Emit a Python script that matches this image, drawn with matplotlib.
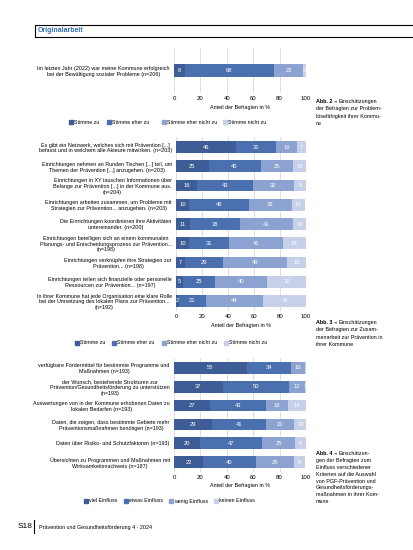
import matplotlib
matplotlib.use("Agg")
import matplotlib.pyplot as plt
from matplotlib.patches import Rectangle
from matplotlib.lines import Line2D
from matplotlib.text import Annotation

plt.rcParams['font.family'] = ['Liberation Sans', 'DejaVu Sans']

W, H = 413, 550
COLORS = ['#3e5d96', '#4a70b0', '#8ca3d1', '#c6d0e8']
BLUE = '#2e6db4'

# --- data -------------------------------------------------------------
labels_1 = ["Im letzten Jahr (2022) war meine Kommune erfolgreich\n"
            "bei der Bewältigung sozialer Probleme (n=206)"]
vals_1 = [[8], [68], [22], [2]]
legend_1 = ["Stimme zu", "Stimme eher zu", "Stimme eher nicht zu", "Stimme nicht zu"]

labels_2 = [
    "Es gibt ein Netzwerk, welches sich mit Prävention [...]\nbefasst und in welchem alle Akteure mitwirken. (n=203)",
    "Einrichtungen nehmen an Runden Tischen [...] teil, um\nThemen der Prävention [...] anzugehen. (n=203)",
    "Einrichtungen in XY tauschen Informationen über\nBelange zur Prävention [...] in der Kommune aus.\n(n=204)",
    "Einrichtungen arbeiten zusammen, um Probleme mit\nStrategien zur Prävention... anzugehen. (n=203)",
    "Die Einrichtungen koordinieren ihre Aktivitäten\nuntereinander. (n=200)",
    "Einrichtungen beteiligen sich an einem kommunalen\nPlanungs- und Entscheidungsprozess zur Prävention...\n(n=198)",
    "Einrichtungen verknüpfen ihre Strategien zur\nPrävention... (n=198)",
    "Einrichtungen teilen sich finanzielle oder personelle\nRessourcen zur Prävention... (n=197)",
    "In ihrer Kommune hat jede Organisation eine klare Rolle\nbei der Umsetzung des lokalen Plans zur Prävention...\n(n=192)",
]
stimme_zu = [46, 25, 16, 10, 11, 10, 7, 5, 2]
stimme_eher_zu = [31, 40, 43, 46, 38, 31, 29, 25, 21]
stimme_eher_nicht_zu = [16, 25, 32, 33, 41, 41, 49, 40, 44]
stimme_nicht_zu = [7, 10, 9, 10, 10, 18, 16, 30, 34]
legend_2 = legend_1

labels_3 = [
    "verfügbare Fördermittel für bestimmte Programme und\nMaßnahmen (n=193)",
    "der Wunsch, bestehende Strukturen zur\nPrävention/Gesundheitsförderung zu unterstützen\n(n=193)",
    "Auswertungen von in der Kommune erhobenen Daten zu\nlokalen Bedarfen (n=193)",
    "Daten, die zeigen, dass bestimmte Gebiete mehr\nPräventionsmaßnahmen benötigen (n=193)",
    "Daten über Risiko- und Schutzfaktoren (n=193)",
    "Übersichten zu Programmen und Maßnahmen mit\nWirksamkeitsnachweis (n=187)",
]
viel = [55, 37, 27, 29, 20, 22]
etwas = [34, 50, 43, 41, 47, 40]
wenig = [10, 12, 16, 21, 25, 29]
keinen = [2, 1, 14, 10, 8, 8]
legend_3 = ["viel Einfluss", "etwas Einfluss", "wenig Einfluss", "keinen Einfluss"]

xticks = [0, 20, 40, 60, 80, 100]

fig = plt.figure(figsize=(W / 100, H / 100), dpi=100)


def px_axes(x0, y0, x1, y1):
    return fig.add_axes([x0 / W, 1 - y1 / H, (x1 - x0) / W, (y1 - y0) / H])


def ftext(x, y, s, **kw):
    return fig.text(x / W, 1 - y / H, s, **kw)


def stacked(ax, labels, series, height, ylim):
    n = len(labels)
    pos = list(range(n))
    left = [0] * n
    for vals, col in zip(series, COLORS):
        ax.barh(pos, vals, left=left, height=height, color=col, zorder=2)
        for i, v in enumerate(vals):
            ax.text(left[i] + v / 2, i, str(v), ha='center', va='center',
                    color='white', fontsize=4.2, zorder=3)
        left = [l + v for l, v in zip(left, vals)]
    ax.set_xlim(0, 100)
    ax.set_ylim(*ylim)
    ax.set_xticks(xticks)
    ax.set_yticks(pos)
    ax.set_yticklabels(labels, fontsize=3.9, linespacing=1.2,
                       multialignment='center')
    ax.tick_params(length=0, pad=3)
    ax.tick_params(axis='x', labelsize=4.3, pad=2.5)
    ax.grid(axis='x', color='#d9d9d9', lw=0.6, zorder=0)
    for s in ax.spines.values():
        s.set_visible(False)


def legend(y, xs, names):
    for x, name, col in zip(xs, names, COLORS):
        fig.patches.append(Rectangle(((x - 5) / W, 1 - (y + 1.8) / H), 3.6 / W, 3.6 / H,
                                     transform=fig.transFigure, color=col))
        ftext(x, y, name, fontsize=3.8, va='center', ha='left')


def caption(x, y, num, lines, step):
    t = ftext(x, y, "Abb. %d " % num, fontsize=3.9, fontweight='bold', va='baseline')
    a = fig.add_artist(Annotation("◂ ", xy=(1, 0), xycoords=t, va='bottom',
                                  color=BLUE, fontsize=3.9))
    fig.add_artist(Annotation(lines[0], xy=(1, 0), xycoords=a, va='bottom',
                              fontsize=3.9))
    for k, ln in enumerate(lines[1:], 1):
        ftext(x, y + k * step, ln, fontsize=3.9, va='baseline')


# --- header ------------------------------------------------------------
fig.patches.append(Rectangle((35 / W, 1 - 37 / H), 400 / W, 12 / H, fill=False,
                             edgecolor='black', lw=0.8, transform=fig.transFigure))
ftext(38, 31, "Originalarbeit", color=BLUE, fontsize=5, fontweight='bold', va='center')

# --- chart 1 -----------------------------------------------------------
ax1 = px_axes(174, 48, 306, 93)
stacked(ax1, labels_1, vals_1, 0.29, (0.5, -0.5))
ftext(240, 108, "Anteil der Befragten in %", fontsize=3.9, ha='center', va='center')
legend(122, [74, 112, 167, 228], legend_1)
caption(316, 103, 2, ["Einschätzungen", "der Befragten zur Problem-",
                      "lösefähigkeit ihrer Kommu-", "ne"], 7.3)

# --- chart 2 -----------------------------------------------------------
ax2 = px_axes(176, 137, 306, 311)
stacked(ax2, labels_2, [stimme_zu, stimme_eher_zu, stimme_eher_nicht_zu, stimme_nicht_zu],
        0.6, (8.52, -0.52))
ftext(241, 326, "Anteil der Befragten in %", fontsize=3.9, ha='center', va='center')
legend(343, [80, 117, 167, 229], legend_2)
caption(316, 324, 3, ["Einschätzungen", "der Befragten zur Zusam-",
                      "menarbeit zur Prävention in", "ihrer Kommune"], 7.3)

# --- chart 3 -----------------------------------------------------------
ax3 = px_axes(174, 358, 306, 472)
stacked(ax3, labels_3, [viel, etwas, wenig, keinen], 0.61, (5.53, -0.53))
ftext(240, 486, "Anteil der Befragten in %", fontsize=3.9, ha='center', va='center')
legend(501, [89, 129, 174, 219], legend_3)
caption(316, 455, 4, ["Einschätzun-", "gen der Befragten zum", "Einfluss verschiedener",
                      "Kriterien auf die Auswahl", "von PGF-Prävention und",
                      "Gesundheitsförderungs-", "maßnahmen in ihrer Kom-", "mune"], 6.9)

# --- footer ------------------------------------------------------------
ftext(18, 527, "S18", fontsize=6, va='center')
fig.add_artist(Line2D([34 / W, 34 / W], [1 - 520 / H, 1 - 533 / H], color='black', lw=0.8))
ftext(39, 527, "Prävention und Gesundheitsförderung 4 · 2024", fontsize=3.9, va='center')

fig.savefig("out.png", dpi=100)
